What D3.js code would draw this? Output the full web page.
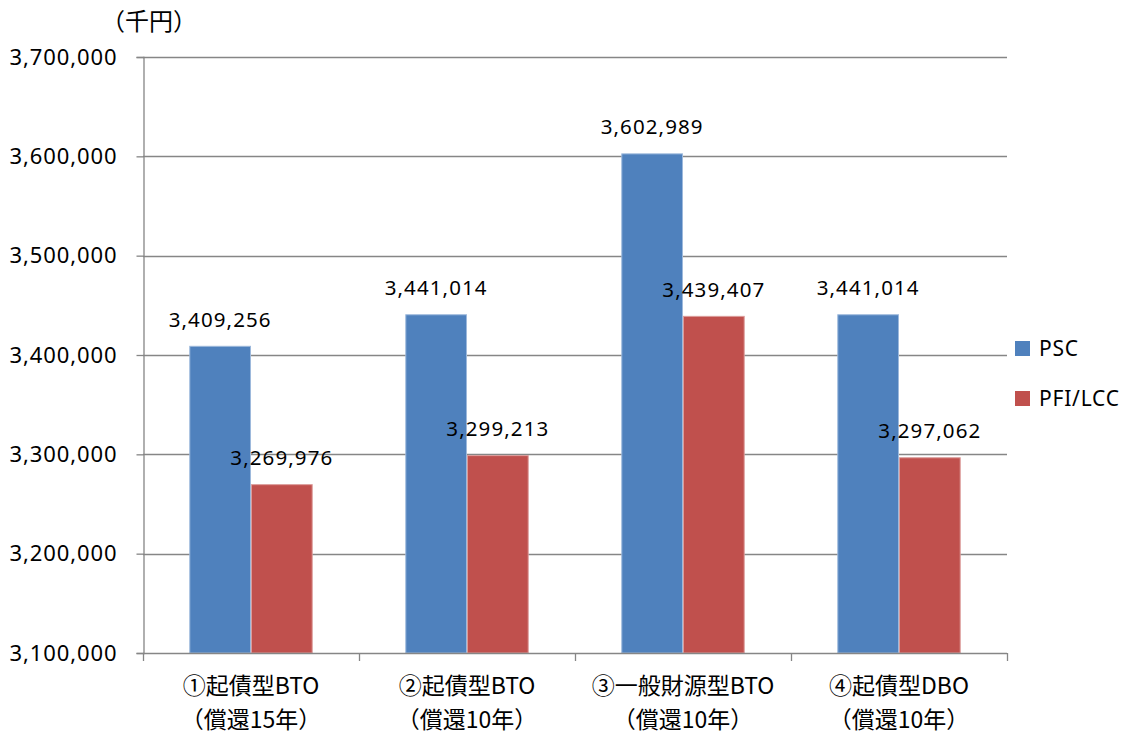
<!DOCTYPE html>
<html>
<head>
<meta charset="utf-8">
<script src="https://cdn.jsdelivr.net/npm/d3@7"></script>
<style>
  html, body { margin: 0; padding: 0; background: #fff; }
  svg { display: block; }
</style>
</head>
<body>
<svg id="chart" width="1130" height="736"></svg>
<script>
// Categories: two-line labels under each group
const categoryLine1 = ["①起債型BTO", "②起債型BTO", "③一般財源型BTO", "④起債型DBO"];
const categoryLine2 = ["（償還15年）", "（償還10年）", "（償還10年）", "（償還10年）"];
const seriesNames = ["PSC", "PFI/LCC"];
const pscValues = [3409256, 3441014, 3602989, 3441014];
const pfiValues = [3269976, 3299213, 3439407, 3297062];
const yTicks = [3100000, 3200000, 3300000, 3400000, 3500000, 3600000, 3700000];
const unitLabel = "（千円）";
const seriesColors = ["#4F81BD", "#C0504D"];
const seriesEdges = ["#9DB9DC", "#DC9C9A"];

const svg = d3.select("#chart");
const plot = { left: 143, right: 1007, top: 57, bottom: 653 };
const axisColor = "#868686";
const numFont = "'Noto Sans', 'DejaVu Sans', sans-serif";
const cjkFont = "'Noto Sans CJK JP', 'Noto Sans', sans-serif";

const y = d3.scaleLinear()
  .domain([yTicks[0], yTicks[yTicks.length - 1]])
  .range([plot.bottom, plot.top]);

const x = d3.scaleBand()
  .domain(d3.range(categoryLine1.length))
  .range([plot.left, plot.right])
  .paddingInner(0).paddingOuter(0);

// Two bars per group, gap between groups = 150% of a bar width
const barW = x.bandwidth() / (seriesNames.length + 1.5);
const x1 = d3.scaleBand()
  .domain(d3.range(seriesNames.length))
  .range([barW * 0.75, barW * 0.75 + barW * seriesNames.length])
  .padding(0);

// Horizontal gridlines
svg.append("g")
  .selectAll("line")
  .data(yTicks.slice(1))
  .join("line")
  .attr("x1", plot.left).attr("x2", plot.right)
  .attr("y1", d => Math.round(y(d)) + 0.5).attr("y2", d => Math.round(y(d)) + 0.5)
  .attr("stroke", axisColor).attr("stroke-width", 1.3);

// Y axis
const yAxis = d3.axisLeft(y).tickValues(yTicks).tickFormat(d3.format(",")).tickSize(7).tickPadding(19);
const gy = svg.append("g").attr("transform", `translate(${plot.left + 0.5},0)`).call(yAxis);
gy.select(".domain").attr("stroke", axisColor).attr("stroke-width", 1.3);
gy.selectAll(".tick line").attr("stroke", axisColor).attr("stroke-width", 1.3);
gy.selectAll(".tick text")
  .attr("font-family", numFont).attr("font-size", 22).attr("fill", "#000")
  .attr("letter-spacing", 0.9);

// Bars
const rows = d3.range(categoryLine1.length).map(i => [pscValues[i], pfiValues[i]]);
const groups = svg.append("g").selectAll("g")
  .data(rows)
  .join("g")
  .attr("transform", (d, i) => `translate(${x(i)},0)`);

groups.selectAll("rect")
  .data(d => d.map((v, s) => ({ v, s })))
  .join("rect")
  .attr("x", d => x1(d.s) + 0.5)
  .attr("y", d => y(d.v) + 0.5)
  .attr("width", x1.bandwidth() - 1)
  .attr("height", d => y(yTicks[0]) - y(d.v) - 0.5)
  .attr("fill", d => seriesColors[d.s])
  .attr("stroke", d => seriesEdges[d.s])
  .attr("stroke-width", 1);

// Value labels above bars
groups.selectAll("text.val")
  .data(d => d.map((v, s) => ({ v, s })))
  .join("text")
  .attr("class", "val")
  .attr("x", d => x1(d.s) + x1.bandwidth() / 2)
  .attr("y", d => y(d.v) - 19)
  .attr("text-anchor", "middle")
  .attr("font-family", numFont).attr("font-size", 20.5)
  .attr("letter-spacing", 1.1)
  .attr("fill", "#000")
  .text(d => d3.format(",")(d.v));

// X axis line and category ticks
svg.append("line")
  .attr("x1", plot.left).attr("x2", plot.right)
  .attr("y1", plot.bottom + 0.5).attr("y2", plot.bottom + 0.5)
  .attr("stroke", axisColor).attr("stroke-width", 1.3);
const boundaries = d3.range(categoryLine1.length + 1).map(i => plot.left + i * x.step());
svg.append("g").selectAll("line")
  .data(boundaries)
  .join("line")
  .attr("x1", d => Math.round(d) + 0.5).attr("x2", d => Math.round(d) + 0.5)
  .attr("y1", plot.bottom).attr("y2", plot.bottom + 8)
  .attr("stroke", axisColor).attr("stroke-width", 1.3);

// Category labels, two separate lines per group
const catLayer = svg.append("g")
  .attr("font-family", cjkFont).attr("font-size", 23).attr("fill", "#000")
  .attr("text-anchor", "middle");
catLayer.selectAll("text.l1")
  .data(d3.range(categoryLine1.length))
  .join("text").attr("class", "l1")
  .attr("x", i => x(i) + x.bandwidth() / 2).attr("y", 694)
  .text(i => categoryLine1[i]);
catLayer.selectAll("text.l2")
  .data(d3.range(categoryLine2.length))
  .join("text").attr("class", "l2")
  .attr("x", i => x(i) + x.bandwidth() / 2).attr("y", 728)
  .text(i => categoryLine2[i]);

// Unit label
svg.append("text")
  .attr("x", 149).attr("y", 30)
  .attr("text-anchor", "middle")
  .attr("font-family", cjkFont).attr("font-size", 24).attr("fill", "#000")
  .text(unitLabel);

// Legend
const legend = svg.append("g").selectAll("g")
  .data(seriesNames)
  .join("g")
  .attr("transform", (d, i) => `translate(1015,${341 + i * 50})`);
legend.append("rect")
  .attr("width", 15).attr("height", 15)
  .attr("fill", (d, i) => seriesColors[i]);
legend.append("text")
  .attr("x", 24).attr("y", 15)
  .attr("font-family", numFont).attr("font-size", 21)
  .attr("letter-spacing", 0.8)
  .attr("fill", "#000")
  .text(d => d);
</script>
</body>
</html>
